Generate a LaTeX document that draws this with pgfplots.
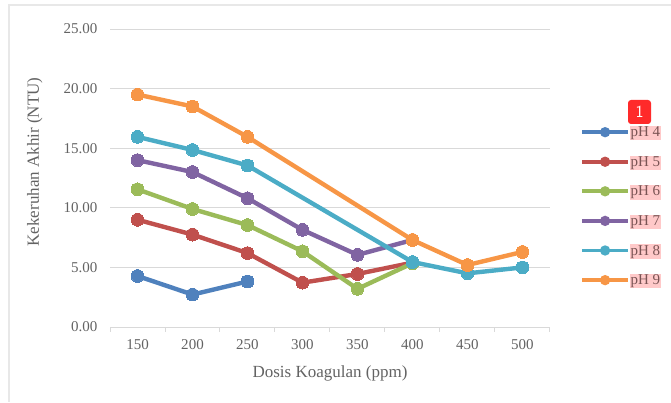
\documentclass[border=0pt]{standalone}
\usepackage{pgfplots}
\usepackage{fontspec}
\setmainfont{Liberation Serif}
\pgfplotsset{compat=1.18}
\definecolor{cph4}{HTML}{4F81BD}
\definecolor{cph5}{HTML}{C0504D}
\definecolor{cph6}{HTML}{9BBB59}
\definecolor{cph7}{HTML}{8064A2}
\definecolor{cph8}{HTML}{4BACC6}
\definecolor{cph9}{HTML}{F79646}
\definecolor{txt}{HTML}{636363}
\definecolor{hl}{HTML}{FFC9C9}
\definecolor{badge}{HTML}{FF2A2A}
\newcommand{\ph}[1]{\setlength{\fboxsep}{0.6pt}\colorbox{hl}{\textcolor{txt!85!red}{pH #1}}}
\pgfplotsset{ser/.style={color=#1,line width=4.4pt,mark=*,mark size=6.4pt,mark options={solid,fill=#1,draw=#1,line width=0pt}}}
\begin{document}
\begin{tikzpicture}[x=1pt,y=1pt]
\useasboundingbox (0,0) rectangle (671,402);
\draw[color=black!9,line width=1.5pt] (9,0) -- (9,397) -- (671,397);
\begin{axis}[
    at={(110pt,75pt)},anchor=south west,
    scale only axis,width=440pt,height=298pt,
    xmin=-0.5,xmax=7.5,ymin=0,ymax=25,
    axis x line=bottom,axis y line=left,
    x axis line style={-,color=black!15,line width=1pt},
    y axis line style={draw=none},
    xtick={0,1,2,3,4,5,6,7},
    xticklabels={150,200,250,300,350,400,450,500},
    minor xtick={-0.5,0.5,1.5,2.5,3.5,4.5,5.5,6.5,7.5},
    major tick length=0pt,
    minor tick length=4.5pt,
    tick align=outside,
    minor tick style={color=black!15,line width=1pt},
    ytick={0,5,10,15,20,25},
    ymajorgrids,
    grid style={color=black!15,line width=1pt},
    yticklabel style={/pgf/number format/fixed,/pgf/number format/fixed zerofill,/pgf/number format/precision=2,/pgf/number format/assume math mode=true,xshift=-9pt},
    tick label style={font=\fontsize{15}{17}\selectfont,color=txt},
    xticklabel style={yshift=-9pt},
    xlabel={Dosis Koagulan (ppm)},
    ylabel={Kekeruhan Akhir (NTU)},
    label style={font=\fontsize{17}{19}\selectfont,color=txt},
    xlabel style={at={(axis description cs:0.5,0)},yshift=-35pt},
    ylabel style={at={(axis description cs:0,0.554)},yshift=64pt},
    legend style={at={(470pt,201pt)},anchor=north west,draw=none,fill=none,
        font=\fontsize{15}{17}\selectfont,row sep=17.6pt,inner sep=0pt,
        nodes={inner sep=0pt,anchor=west}},
    legend cell align=left,
    legend image code/.code={
        \draw[#1,mark=none,line width=3.8pt] (0pt,0pt) -- (46pt,0pt);
        \path[#1,draw=none,fill] (23pt,0pt) circle (5.2pt);},
    clip=false,
]
\addplot[ser=cph4] coordinates {(0,4.28) (1,2.72) (2,3.82)};
\addplot[ser=cph5] coordinates {(0,9.0) (1,7.75) (2,6.2) (3,3.72) (4,4.45) (5,5.4)};
\addplot[ser=cph6] coordinates {(0,11.55) (1,9.9) (2,8.55) (3,6.35) (4,3.2) (5,5.35)};
\addplot[ser=cph7] coordinates {(0,14.0) (1,13.0) (2,10.8) (3,8.15) (4,6.05) (5,7.3)};
\addplot[ser=cph8] coordinates {(0,15.95) (1,14.85) (2,13.55) (5,5.45) (6,4.5) (7,5.0)};
\addplot[ser=cph9] coordinates {(0,19.5) (1,18.5) (2,15.95) (5,7.3) (6,5.2) (7,6.3)};
\legend{\ph{4},\ph{5},\ph{6},\ph{7},\ph{8},\ph{9}}
\end{axis}
\node[fill=badge,rounded corners=3pt,text=white,font=\sffamily\fontsize{17}{19}\selectfont,minimum width=23pt,minimum height=24pt,inner sep=0pt] at (639.5,290) {1};
\end{tikzpicture}
\end{document}
